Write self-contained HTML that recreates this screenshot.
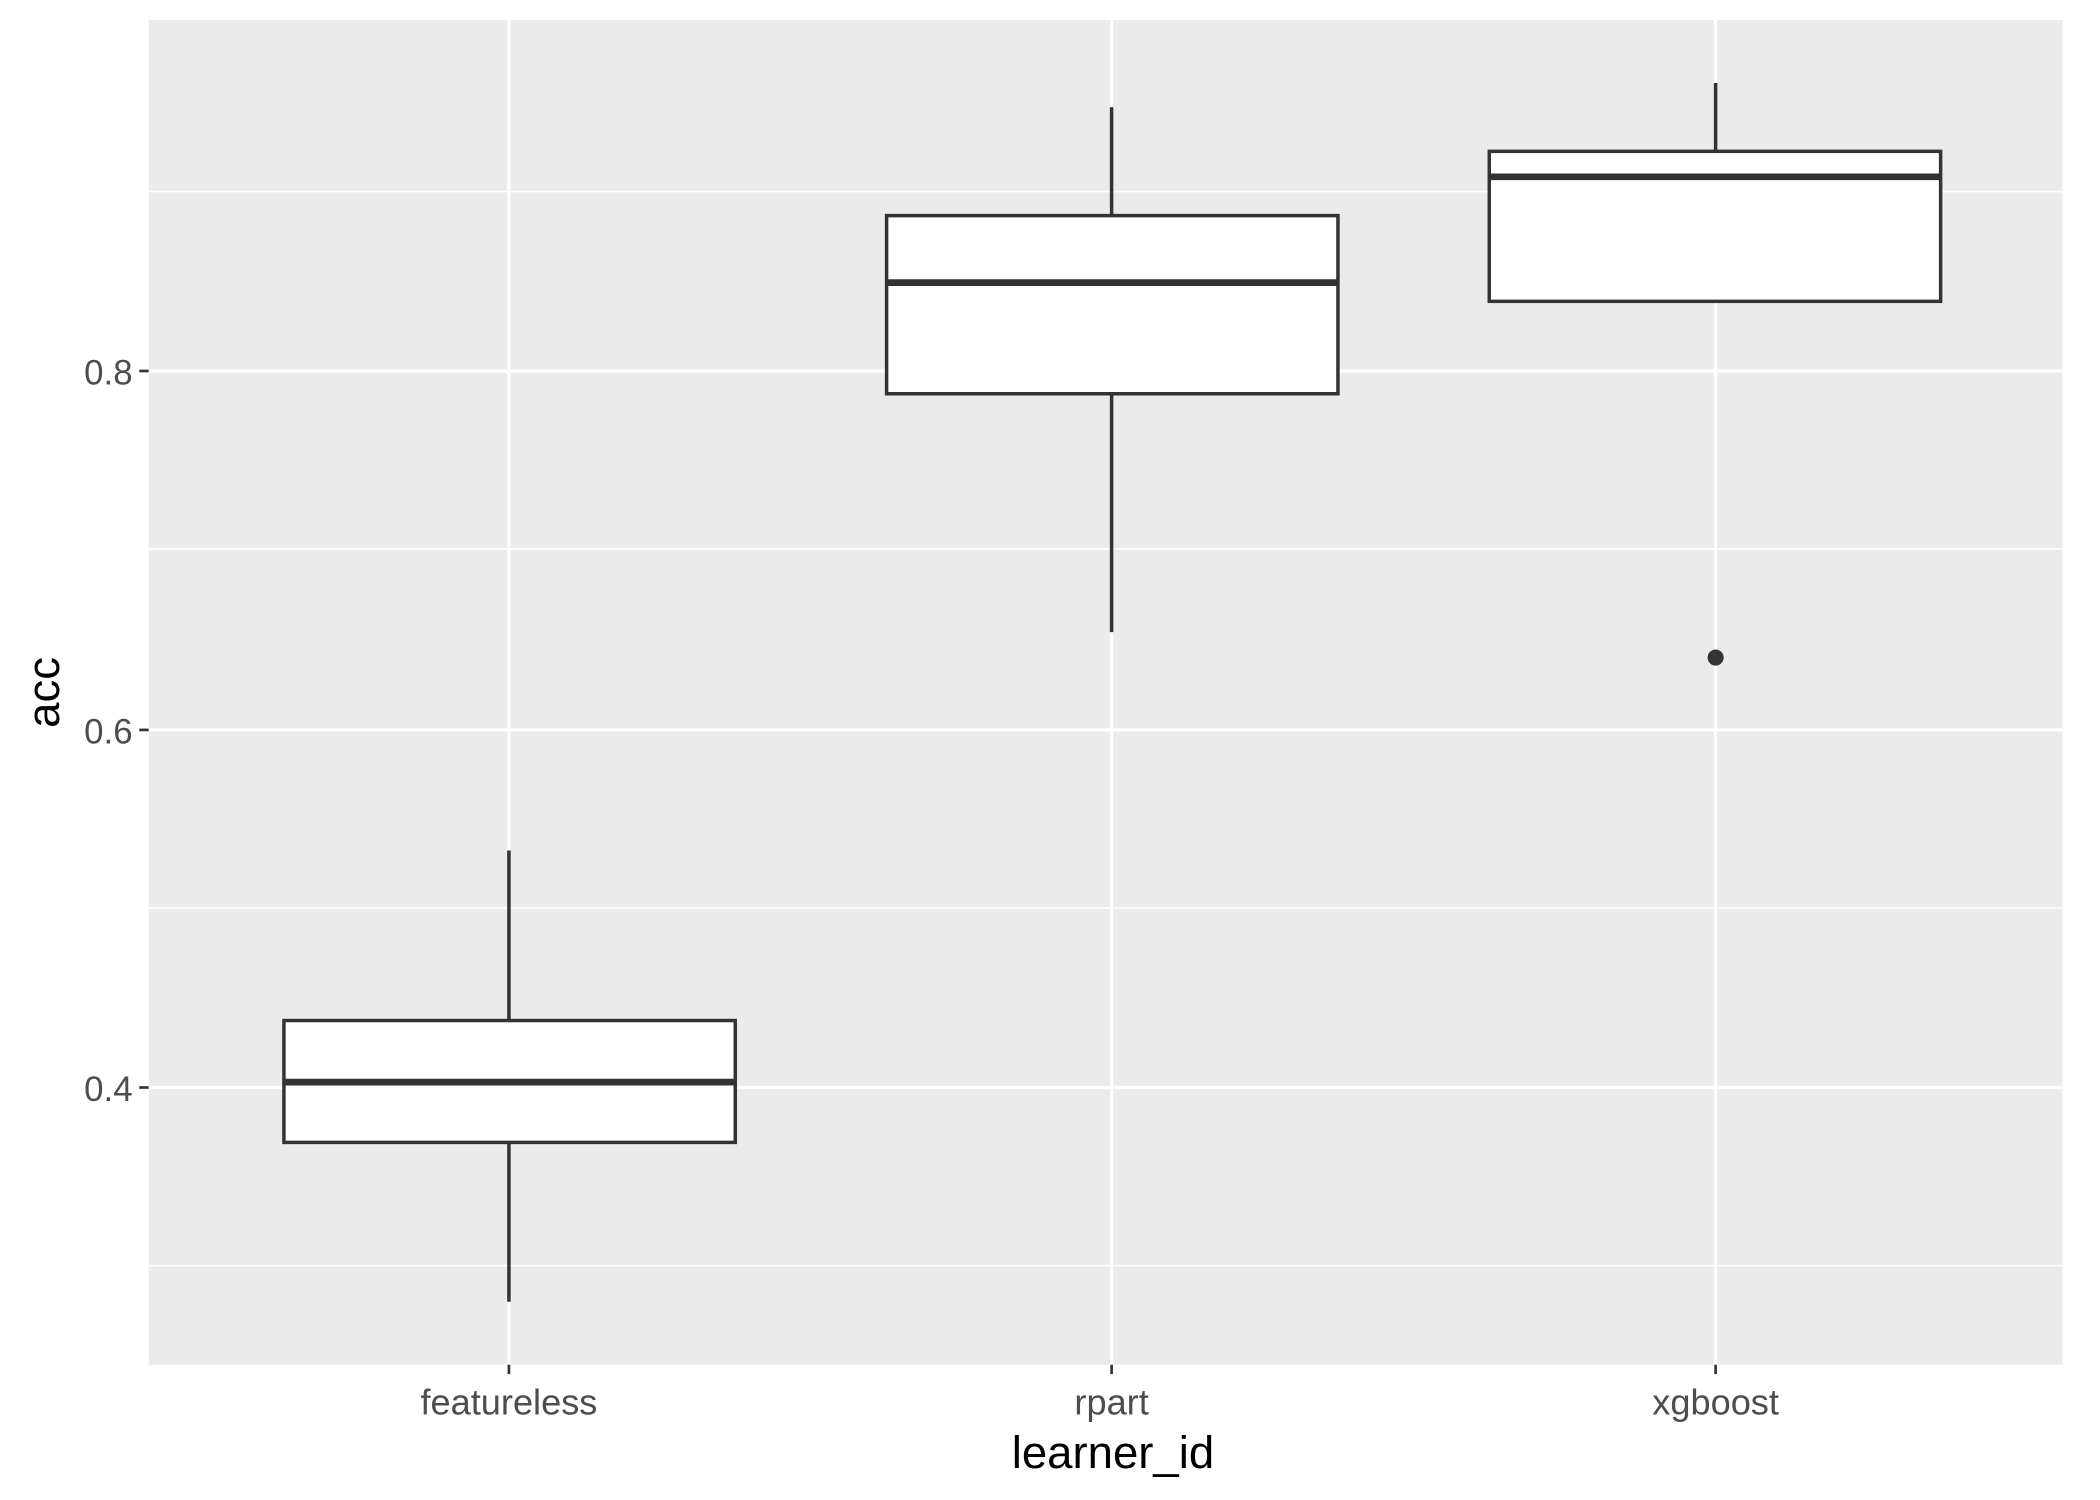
<!DOCTYPE html>
<html><head><style>html,body{margin:0;padding:0;background:#fff}svg{display:block}</style></head>
<body>
<svg width="2100" height="1500" viewBox="0 0 1568 1120" xmlns="http://www.w3.org/2000/svg" font-family="Liberation Sans, sans-serif">
<rect x="0" y="0" width="1568" height="1120" fill="#fff"/>
<rect x="111" y="15" width="1429" height="1004" fill="#EBEBEB"/>
<g stroke="#fff" stroke-width="1.2">
<line x1="111" x2="1540" y1="143" y2="143"/><line x1="111" x2="1540" y1="410" y2="410"/>
<line x1="111" x2="1540" y1="678" y2="678"/><line x1="111" x2="1540" y1="945" y2="945"/>
</g>
<g stroke="#fff" stroke-width="2.4">
<line x1="111" x2="1540" y1="277" y2="277"/><line x1="111" x2="1540" y1="545" y2="545"/>
<line x1="111" x2="1540" y1="812" y2="812"/>
<line y1="15" y2="1019" x1="380" x2="380"/><line y1="15" y2="1019" x1="830" x2="830"/><line y1="15" y2="1019" x1="1281" x2="1281"/>
</g>
<g stroke="#333" stroke-width="2.6" fill="#fff">
<line x1="380" x2="380" y1="635" y2="972"/>
<rect x="212" y="762" width="337" height="91"/>
<line x1="212" x2="549" y1="808" y2="808" stroke-width="5"/>
<line x1="830" x2="830" y1="80" y2="472"/>
<rect x="662" y="161" width="337" height="133"/>
<line x1="662" x2="999" y1="211" y2="211" stroke-width="5"/>
<line x1="1281" x2="1281" y1="62" y2="225"/>
<rect x="1112" y="113" width="337" height="112"/>
<line x1="1112" x2="1449" y1="132" y2="132" stroke-width="5"/>
</g>
<circle cx="1281" cy="491" r="6" fill="#333"/>
<g stroke="#333" stroke-width="2">
<line x1="104" x2="111" y1="277" y2="277"/><line x1="104" x2="111" y1="545" y2="545"/><line x1="104" x2="111" y1="812" y2="812"/>
<line x1="380" x2="380" y1="1019" y2="1026"/><line x1="830" x2="830" y1="1019" y2="1026"/><line x1="1281" x2="1281" y1="1019" y2="1026"/>
</g>
<g fill="#4D4D4D" font-size="26" text-anchor="end">
<text x="99" y="287">0.8</text><text x="99" y="555">0.6</text><text x="99" y="822">0.4</text>
</g>
<g fill="#4D4D4D" font-size="27" text-anchor="middle">
<text x="380" y="1056">featureless</text><text x="830" y="1056">rpart</text><text x="1281" y="1056">xgboost</text>
</g>
<text x="831" y="1096" font-size="34" text-anchor="middle" fill="#000">learner_id</text>
<text transform="translate(44,517) rotate(-90)" font-size="34" text-anchor="middle" fill="#000">acc</text>
</svg>
</body></html>
